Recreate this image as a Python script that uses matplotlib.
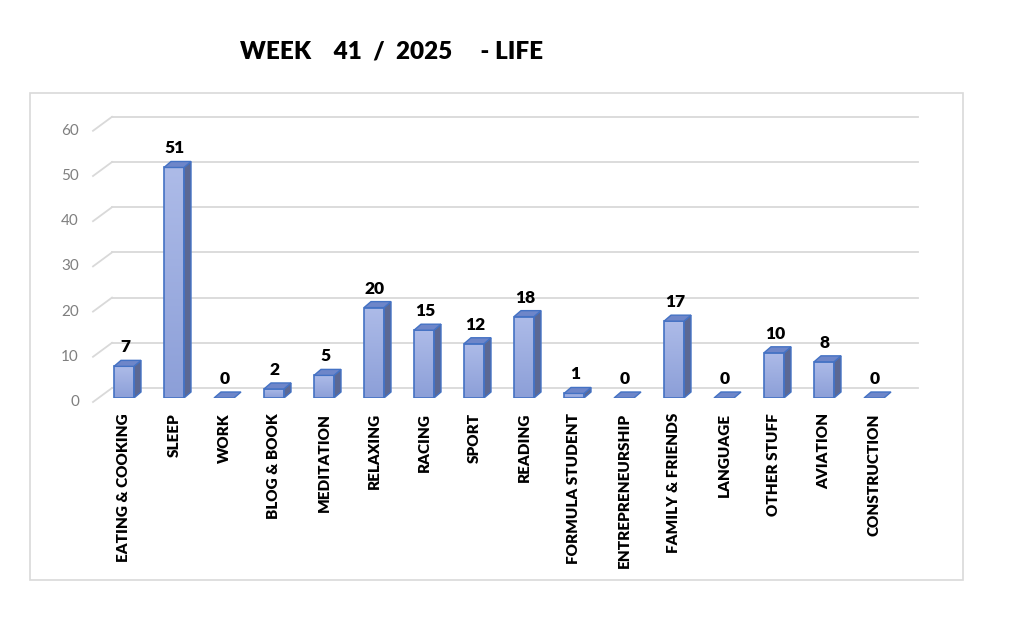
import numpy as np
import matplotlib.pyplot as plt
from matplotlib.patches import Polygon, Rectangle
from matplotlib.transforms import ScaledTranslation

categories = ['EATING & COOKING', 'SLEEP', 'WORK', 'BLOG & BOOK', 'MEDITATION',
              'RELAXING', 'RACING', 'SPORT', 'READING', 'FORMULA STUDENT',
              'ENTREPRENEURSHIP', 'FAMILY & FRIENDS', 'LANGUAGE', 'OTHER STUFF',
              'AVIATION', 'CONSTRUCTION']
hours = [7, 51, 0, 2, 5, 20, 15, 12, 18, 1, 0, 17, 0, 10, 8, 0]
y_ticks = [0, 10, 20, 30, 40, 50, 60]
title = 'WEEK    41  /  2025     - LIFE'

plt.rcParams['font.family'] = ['Lato', 'DejaVu Sans']

fig = plt.figure(figsize=(10.23, 6.18), dpi=100)
W, H = 1023, 618
ax = fig.add_axes([99 / W, 220 / H, 800 / W, 271.2 / H])
ax.set_xlim(-0.5, 15.5)
ax.set_ylim(0, 60)
ax.axis('off')


def shift(dx, dy):
    # offset in pixels from the data position
    return ax.transData + ScaledTranslation(dx / 100, dy / 100, fig.dpi_scale_trans)


# pixel -> data conversion for the 3d depth
p0 = ax.transData.transform((0, 0))
p1 = ax.transData.transform((1, 1))
px_x = p1[0] - p0[0]
px_y = p1[1] - p0[1]
dx_d = 7 / px_x
dy_d = 6 / px_y
half = 0.2

# back wall gridlines and side floor lines
for v in y_ticks:
    ax.plot([-0.5, 15.62], [v, v], color='#d9d9d9', lw=1.3,
            transform=shift(13, 10), clip_on=False, zorder=1)
    a = shift(-6, -4).transform((-0.5, v))
    b = shift(13, 10).transform((-0.5, v))
    fig.add_artist(plt.Line2D([a[0], b[0]], [a[1], b[1]], color='#d9d9d9', lw=1.3,
                              transform=None))
    ax.text(-0.5, v, str(v), ha='right', va='center', color='#7f7f7f', fontsize=11,
            transform=shift(-20, -4), clip_on=False)

grad = np.linspace(1, 0, 100).reshape(-1, 1)
edge = '#4472c4'
cmap = plt.matplotlib.colors.LinearSegmentedColormap.from_list('g', ['#8c9fd8', '#adbbe8'])
for i, v in enumerate(hours):
    if v > 0:
        front = Rectangle((i - half, 0), 2 * half, v, facecolor='none',
                          edgecolor=edge, lw=1.2, zorder=4)
        ax.add_patch(front)
        im = ax.imshow(grad, extent=(i - half, i + half, 0, v), aspect='auto',
                       cmap=cmap, zorder=3, origin='upper')
        im.set_clip_path(front)
        side = Polygon([(i + half, 0), (i + half + dx_d, dy_d),
                        (i + half + dx_d, v + dy_d), (i + half, v)],
                       facecolor='#5b6894', edgecolor=edge, lw=1.0, zorder=3)
        ax.add_patch(side)
    top = Polygon([(i - half, v), (i + half, v), (i + half + dx_d, v + dy_d),
                   (i - half + dx_d, v + dy_d)],
                  facecolor='#6e86c9', edgecolor=edge, lw=1.0, zorder=4)
    ax.add_patch(top)
    ax.text(i, v + dy_d, str(v), ha='center', va='bottom', fontsize=12.5,
            fontweight='heavy', transform=shift(1, 5), zorder=5)
    ax.text(i, 0, categories[i], rotation=90, ha='center', va='top', fontsize=11,
            fontweight='heavy', transform=shift(0, -15), clip_on=False)

ax.set_xlim(-0.5, 15.5)
ax.set_ylim(0, 60)

fig.add_artist(Rectangle((30 / W, (H - 580) / H), 933 / W, 487 / H,
                         transform=fig.transFigure, fill=False,
                         edgecolor='#d9d9d9', lw=1.2))
fig.text(392 / W, 1 - 52 / H, title, ha='center', va='center', fontsize=17.5,
         fontweight='heavy')

fig.savefig('out.png', dpi=100)
